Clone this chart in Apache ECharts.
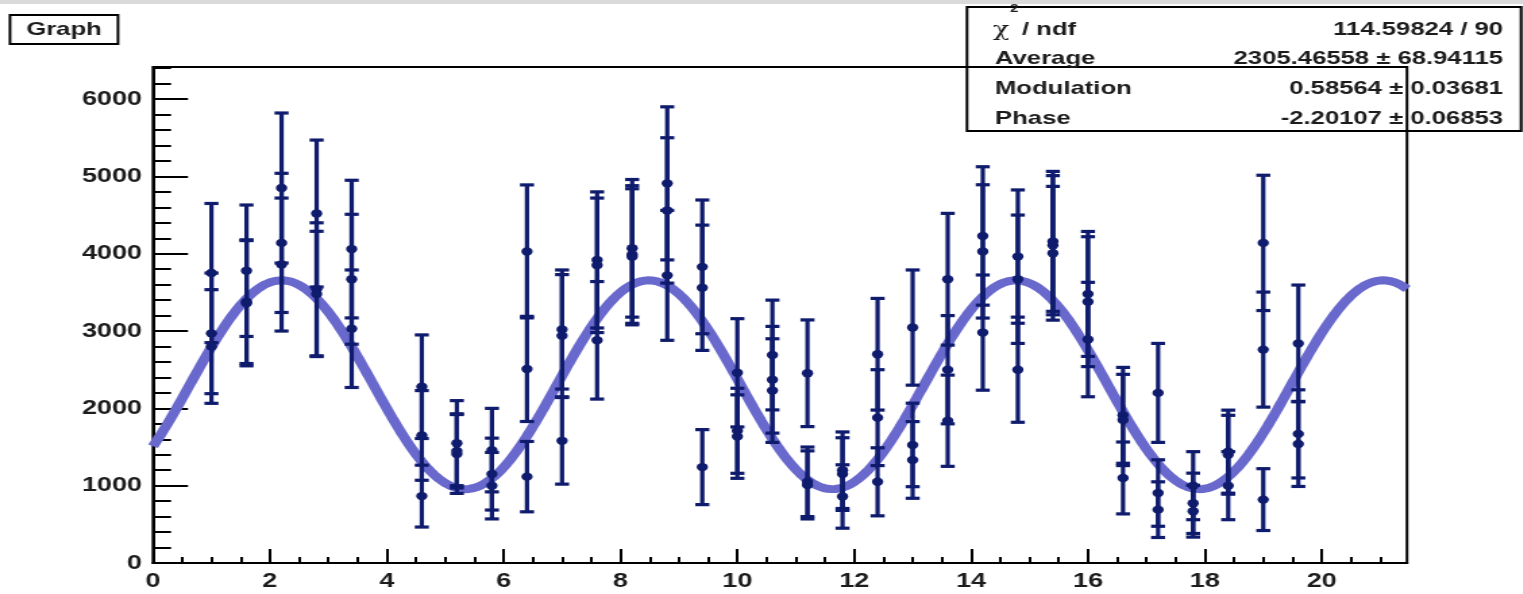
<!DOCTYPE html>
<html>
<head>
<meta charset="utf-8">
<title>Graph</title>
<script src="https://cdn.jsdelivr.net/npm/echarts@6/dist/echarts.min.js"></script>
<style>
  html, body { margin: 0; padding: 0; background: #fff; overflow: hidden; }
  #wrap { position: relative; width: 1523px; height: 594px; overflow: hidden; background: #fff; }
  #chart { position: absolute; left: 0; top: 0; height: 594px; transform-origin: 0 0; }
</style>
</head>
<body>
<div id="wrap"><div id="chart"></div></div>
<script>
// Measurement positions (three measurements at every position)
const xPositions = [1.0, 1.6, 2.2, 2.8, 3.4, 4.6, 5.2, 5.8, 6.4, 7.0, 7.6, 8.2, 8.8, 9.4, 10.0, 10.6,
                    11.2, 11.8, 12.4, 13.0, 13.6, 14.2, 14.8, 15.4, 16.0, 16.6, 17.2, 17.8, 18.4, 19.0, 19.6];

const valuesA = [3750, 3780, 4850, 4520, 4060, 2280, 1550, 1460, 4030, 3020, 3920, 4070, 4910, 3830, 2460, 2690,
                 2454, 1200, 2700, 3045, 3670, 4230, 3963, 4160, 3480, 1910, 2200, 1000, 1440, 4140, 2840];
const errorsA = [900, 850, 970, 950, 890, 670, 550, 540, 860, 770, 880, 890, 990, 865, 700, 710,
                 690, 495, 722, 745, 852, 895, 862, 905, 808, 620, 640, 440, 537, 875, 755];

const valuesB = [2970, 3380, 4140, 3540, 3670, 1650, 1410, 1150, 2510, 2940, 3850, 3990, 4560, 3560, 1710, 2370,
                 1050, 1150, 1880, 1527, 2500, 4030, 3670, 4110, 3380, 1850, 905, 772, 1400, 2760, 1670];
const errorsB = [780, 800, 900, 860, 840, 580, 510, 465, 680, 790, 870, 890, 940, 810, 550, 690,
                 450, 470, 620, 540, 700, 862, 830, 900, 840, 590, 430, 390, 510, 744, 570];

const valuesC = [2800, 3360, 3860, 3480, 3030, 865, 1450, 1000, 1117, 1580, 2880, 3960, 3720, 1240, 1635, 2230,
                 1010, 860, 1050, 1333, 1840, 2980, 2500, 4006, 2890, 1100, 690, 670, 1000, 820, 1540];
const errorsC = [735, 810, 860, 810, 760, 400, 480, 430, 455, 560, 760, 880, 840, 485, 540, 670,
                 440, 410, 440, 496, 590, 745, 680, 865, 740, 465, 360, 335, 440, 400, 550];

// Fit result: Average * (1 + Modulation * cos(x + Phase))
const fitAverage = 2305.46558, fitAverageErr = 68.94115;
const fitModulation = 0.58564, fitModulationErr = 0.03681;
const fitPhase = -2.20107, fitPhaseErr = 0.06853;
const fitChi2 = 114.59824, fitNdf = 90;

// Axis ticks
const xMajorTicks = [0, 2, 4, 6, 8, 10, 12, 14, 16, 18, 20];
const yMajorTicks = [0, 1000, 2000, 3000, 4000, 5000, 6000];
const X_MAX = 21.46;
const Y_MAX = 6415;

const xMinorTicks = [];
for (let v = 0.5; v < X_MAX; v += 0.5) {
  if (Math.abs(v / 2 - Math.round(v / 2)) > 1e-6) xMinorTicks.push(+v.toFixed(2));
}
const yMinorTicks = [];
for (let v = 200; v < Y_MAX; v += 200) {
  if (v % 1000 !== 0) yMinorTicks.push(v);
}

// The page is drawn on a narrower canvas and widened horizontally.
const STRETCH = 1.35;
const PAGE_W = 1523;
const innerW = PAGE_W / STRETCH;
const sx = (px) => px / STRETCH;

const el = document.getElementById('chart');
el.style.width = innerW + 'px';
el.style.transform = 'scaleX(' + STRETCH + ')';

const POINT_COLOR = '#0f1b6c';
const FIT_COLOR = '#6969cd';
const TEXT_COLOR = '#1c1c1c';
const FONT = '"Liberation Sans", Arial, Helvetica, sans-serif';

const pointData = [];
[[valuesA, errorsA], [valuesB, errorsB], [valuesC, errorsC]].forEach(([vals, errs]) => {
  xPositions.forEach((x, i) => pointData.push([x, vals[i], errs[i]]));
});

const fitCurve = [];
for (let i = 0; i <= 1000; i++) {
  const x = X_MAX * i / 1000;
  fitCurve.push([x, fitAverage * (1 + fitModulation * Math.cos(x + fitPhase))]);
}

function renderErrorBar(params, api) {
  const x = api.value(0), y = api.value(1), e = api.value(2);
  const top = api.coord([x, y + e]);
  const bot = api.coord([x, y - e]);
  const mid = api.coord([x, y]);
  const capHalf = 5.2;
  const lineStyle = { stroke: POINT_COLOR, lineWidth: 3.2 };
  return {
    type: 'group',
    children: [
      { type: 'line', shape: { x1: mid[0], y1: top[1], x2: mid[0], y2: bot[1] }, style: lineStyle },
      { type: 'line', shape: { x1: mid[0] - capHalf, y1: top[1], x2: mid[0] + capHalf, y2: top[1] }, style: lineStyle },
      { type: 'line', shape: { x1: mid[0] - capHalf, y1: bot[1], x2: mid[0] + capHalf, y2: bot[1] }, style: lineStyle },
      { type: 'circle', shape: { cx: mid[0], cy: mid[1], r: 4.2 }, style: { fill: POINT_COLOR } }
    ]
  };
}

const axisLineStyle = { color: '#000', width: 2 };
const labelStyle = { fontSize: 20, fontWeight: 'bold', fontFamily: FONT, color: TEXT_COLOR };
const plain = (v) => String(v);

const chart = echarts.init(el, null, { renderer: 'canvas', width: innerW, height: 594 });

const statFont = 'bold 19px ' + FONT;
const rowY = [30, 58.5, 88.5, 119];

chart.setOption({
  animation: false,
  backgroundColor: '#fff',
  grid: {
    show: true,
    left: sx(153), right: sx(PAGE_W - 1407), top: 67, bottom: 31,
    borderColor: '#000', borderWidth: 2, backgroundColor: 'transparent'
  },
  xAxis: [
    {
      type: 'value', position: 'bottom', min: 0, max: X_MAX,
      axisLine: { show: true, onZero: false, lineStyle: axisLineStyle },
      axisTick: { show: true, inside: true, length: 14, customValues: xMajorTicks, lineStyle: axisLineStyle },
      axisLabel: Object.assign({ customValues: xMajorTicks, margin: 8, formatter: plain }, labelStyle),
      splitLine: { show: false }
    },
    {
      type: 'value', position: 'bottom', min: 0, max: X_MAX,
      axisLine: { show: false, onZero: false },
      axisTick: { show: true, inside: true, length: 6, customValues: xMinorTicks, lineStyle: axisLineStyle },
      axisLabel: { show: false },
      splitLine: { show: false }
    }
  ],
  yAxis: [
    {
      type: 'value', position: 'left', min: 0, max: Y_MAX,
      axisLine: { show: true, onZero: false, lineStyle: axisLineStyle },
      axisTick: { show: true, inside: true, length: sx(35), customValues: yMajorTicks, lineStyle: axisLineStyle },
      axisLabel: Object.assign({ customValues: yMajorTicks, margin: sx(11), formatter: plain,
                                 verticalAlign: 'middle', padding: [14, 0, 0, 0] }, labelStyle),
      splitLine: { show: false }
    },
    {
      type: 'value', position: 'left', min: 0, max: Y_MAX,
      axisLine: { show: false, onZero: false },
      axisTick: { show: true, inside: true, length: sx(18), customValues: yMinorTicks, lineStyle: axisLineStyle },
      axisLabel: { show: false },
      splitLine: { show: false }
    }
  ],
  series: [
    {
      name: 'fit', type: 'line', data: fitCurve, showSymbol: false, smooth: false, z: 2,
      lineStyle: { color: FIT_COLOR, width: 8 }, silent: true
    },
    {
      name: 'Graph', type: 'custom', data: pointData, renderItem: renderErrorBar, z: 3,
      encode: { x: 0, y: 1 }, silent: true
    }
  ],
  graphic: [
    { type: 'rect', shape: { x: 0, y: 0, width: innerW, height: 4 }, style: { fill: '#dadada' }, z: 10 },
    // title box
    { type: 'rect', shape: { x: sx(10), y: 15, width: sx(108), height: 29 },
      style: { fill: '#fff', stroke: '#000', lineWidth: 2 }, z: 10 },
    { type: 'text', x: sx(64), y: 30, z: 11,
      style: { text: 'Graph', fill: TEXT_COLOR, font: 'bold 19px ' + FONT, align: 'center', verticalAlign: 'middle' } },
    // fit statistics box
    { type: 'rect', shape: { x: sx(967), y: 7, width: sx(1521 - 967), height: 124 },
      style: { fill: 'transparent', stroke: '#000', lineWidth: 2 }, z: 10 },
    { type: 'text', x: sx(993), y: rowY[0] + 1, z: 11,
      style: { text: 'χ', fill: TEXT_COLOR, font: '20px "DejaVu Serif", serif', align: 'left', verticalAlign: 'middle' } },
    { type: 'text', x: sx(1010), y: 9, z: 11,
      style: { text: '2', fill: TEXT_COLOR, font: 'bold 11px ' + FONT, align: 'left', verticalAlign: 'middle' } },
    { type: 'text', x: sx(1022), y: rowY[0], z: 11,
      style: { text: '/ ndf', fill: TEXT_COLOR, font: statFont, align: 'left', verticalAlign: 'middle' } },
    { type: 'text', x: sx(1503), y: rowY[0], z: 11,
      style: { text: fitChi2.toFixed(5) + ' / ' + fitNdf, fill: TEXT_COLOR, font: statFont, align: 'right', verticalAlign: 'middle' } },
    { type: 'text', x: sx(995), y: rowY[1], z: 11,
      style: { text: 'Average', fill: TEXT_COLOR, font: statFont, align: 'left', verticalAlign: 'middle' } },
    { type: 'text', x: sx(1503), y: rowY[1], z: 11,
      style: { text: fitAverage.toFixed(5) + ' ± ' + fitAverageErr.toFixed(5), fill: TEXT_COLOR, font: statFont, align: 'right', verticalAlign: 'middle' } },
    { type: 'text', x: sx(995), y: rowY[2], z: 11,
      style: { text: 'Modulation', fill: TEXT_COLOR, font: statFont, align: 'left', verticalAlign: 'middle' } },
    { type: 'text', x: sx(1503), y: rowY[2], z: 11,
      style: { text: fitModulation.toFixed(5) + ' ± ' + fitModulationErr.toFixed(5), fill: TEXT_COLOR, font: statFont, align: 'right', verticalAlign: 'middle' } },
    { type: 'text', x: sx(995), y: rowY[3], z: 11,
      style: { text: 'Phase', fill: TEXT_COLOR, font: statFont, align: 'left', verticalAlign: 'middle' } },
    { type: 'text', x: sx(1503), y: rowY[3], z: 11,
      style: { text: fitPhase.toFixed(5) + ' ± ' + fitPhaseErr.toFixed(5), fill: TEXT_COLOR, font: statFont, align: 'right', verticalAlign: 'middle' } }
  ]
});
</script>
</body>
</html>
